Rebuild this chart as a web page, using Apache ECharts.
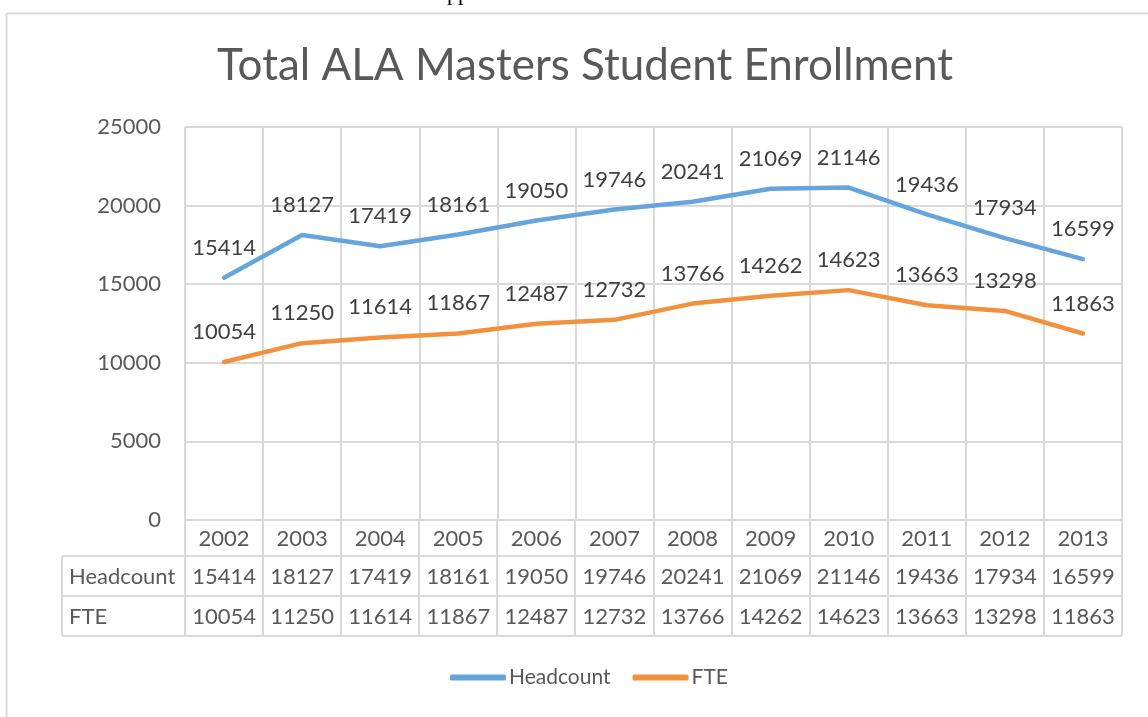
<!DOCTYPE html>
<html>
<head>
<meta charset="utf-8">
<script src="https://cdn.jsdelivr.net/npm/echarts@6/dist/echarts.min.js"></script>
<style>
html,body{margin:0;padding:0;background:#fff;}
#main{width:1148px;height:717px;}
</style>
</head>
<body>
<div id="main"></div>
<script>
const years = ['2002','2003','2004','2005','2006','2007','2008','2009','2010','2011','2012','2013'];
const headcount = [15414,18127,17419,18161,19050,19746,20241,21069,21146,19436,17934,16599];
const fte = [10054,11250,11614,11867,12487,12732,13766,14262,14623,13663,13298,11863];
const seriesNames = ['Headcount','FTE'];
const yMin = 0, yMax = 25000, yInterval = 5000;

const FONT = 'Lato';
const FS = 22;
const GRID = '#D9D9D9';
const TXT = '#595959';
const LBL = '#404040';
const BLUE = '#65A5DC';
const ORANGE = '#F2913D';

const chart = echarts.init(document.getElementById('main'), null, {renderer:'canvas'});
function lineSeries(name, data, color){
  return {name:name,type:'line',data:data,symbol:'circle',symbolSize:0.1,showSymbol:true,
    itemStyle:{color:color},
    lineStyle:{color:color,width:4.5,cap:'round',join:'round'},
    label:{show:true,position:'top',distance:19,fontFamily:FONT,fontSize:FS,color:LBL},
    labelLayout:{hideOverlap:false}};
}
const option = {
  backgroundColor:'#fff',
  animation:false,
  title:{
    text:'Total ALA Masters Student Enrollment',
    left:212, top:39,
    textStyle:{fontFamily:FONT,fontSize:44,fontWeight:'normal',color:TXT}
  },
  grid:{left:185,right:26,top:127,bottom:197,containLabel:false},
  legend:{
    left:445, top:662,
    itemWidth:56, itemHeight:6, itemGap:22,
    icon:'roundRect',
    textStyle:{fontFamily:FONT,fontSize:21,color:TXT,padding:[0,0,0,-2]},
    data:seriesNames
  },
  xAxis:{
    type:'category', data:years, boundaryGap:true,
    axisLine:{show:true,lineStyle:{color:GRID,width:2}},
    axisTick:{show:false},
    axisLabel:{fontFamily:FONT,fontSize:FS,color:TXT,margin:8},
    splitLine:{show:true,lineStyle:{color:GRID,width:2}}
  },
  yAxis:{
    type:'value', min:yMin, max:yMax, interval:yInterval,
    axisLine:{show:false}, axisTick:{show:false},
    axisLabel:{fontFamily:FONT,fontSize:FS,color:TXT,margin:24,formatter:v=>String(v)},
    splitLine:{show:true,lineStyle:{color:GRID,width:2}}
  },
  series:[lineSeries(seriesNames[0],headcount,BLUE), lineSeries(seriesNames[1],fte,ORANGE)]
};
chart.setOption(option);

// Build the data table under the axis from the arrays, using the chart's own scale
function buildTable(){
  const p0 = chart.convertToPixel({xAxisIndex:0,yAxisIndex:0},[0,yMin]);
  const p1 = chart.convertToPixel({xAxisIndex:0,yAxisIndex:0},[1,yMin]);
  const colW = p1[0]-p0[0];
  const axisY = p0[1];
  const leftPlot = p0[0]-colW/2;
  const rightPlot = leftPlot + colW*years.length;
  const tableLeft = 62;
  const rowTop = axisY + 36;
  const rowH = 40;
  const rows = [headcount, fte];
  const els = [];
  const ls = {stroke:GRID,lineWidth:2};
  for(let i=0;i<=years.length;i++){
    const x = Math.round(leftPlot + colW*i);
    els.push({type:'line',shape:{x1:x,y1:axisY,x2:x,y2:rowTop+rowH*rows.length},style:ls,silent:true});
  }
  els.push({type:'line',shape:{x1:tableLeft,y1:rowTop,x2:tableLeft,y2:rowTop+rowH*rows.length},style:ls,silent:true});
  for(let r=0;r<=rows.length;r++){
    const y = Math.round(rowTop + rowH*r);
    els.push({type:'line',shape:{x1:tableLeft,y1:y,x2:rightPlot,y2:y},style:ls,silent:true});
  }
  rows.forEach((vals,r)=>{
    const cy = rowTop + rowH*r + rowH/2 + 1;
    els.push({type:'text',x:tableLeft+7,y:cy,silent:true,
      style:{text:seriesNames[r],font:FS+'px '+FONT,fill:TXT,align:'left',verticalAlign:'middle'}});
    vals.forEach((v,i)=>{
      const cx = chart.convertToPixel({xAxisIndex:0},i);
      els.push({type:'text',x:cx,y:cy,silent:true,
        style:{text:String(v),font:FS+'px '+FONT,fill:TXT,align:'center',verticalAlign:'middle'}});
    });
  });
  els.push({type:'line',shape:{x1:6.5,y1:13.5,x2:1148,y2:13.5},style:{stroke:GRID,lineWidth:2},silent:true});
  els.push({type:'line',shape:{x1:6.5,y1:13.5,x2:6.5,y2:717},style:{stroke:GRID,lineWidth:2},silent:true});
  els.push({type:'text',x:447,y:-17,silent:true,
    style:{text:'pp',font:'22px "Liberation Serif"',fill:'#000',align:'left',verticalAlign:'top'}});
  chart.setOption({graphic:{elements:els}});
}
buildTable();
</script>
</body>
</html>
